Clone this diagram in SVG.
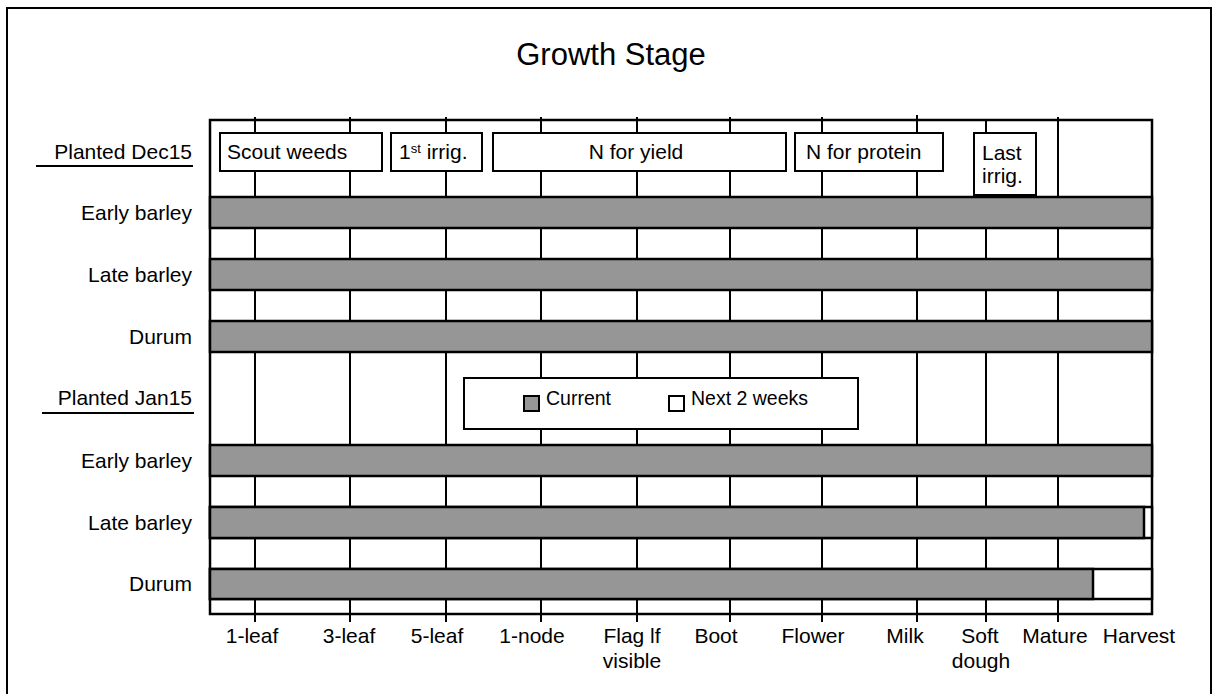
<svg xmlns="http://www.w3.org/2000/svg" width="1213" height="694" viewBox="0 0 1213 694">
<style>
text{font-family:"Liberation Sans",Arial,sans-serif;font-size:21px;fill:#000}
.r{text-anchor:end}
.m{text-anchor:middle}
.grid{stroke:#000;stroke-width:2}
.box{fill:#fff;stroke:#000;stroke-width:2}
.cur{fill:#969696;stroke:#000;stroke-width:2.5}
.nxt{fill:#fff;stroke:#000;stroke-width:2.5}
.ul{stroke:#000;stroke-width:2}
.lg{font-size:19.5px}
</style>
<rect x="0" y="0" width="1213" height="694" fill="#fff"/>
<rect id="border" x="7" y="8" width="1204" height="700" fill="none" stroke="#000" stroke-width="2"/>
<text id="title" x="611" y="65" class="m" style="font-size:31px">Growth Stage</text>

<g id="plot-bg">
<rect x="210" y="120" width="942" height="494" fill="#fff"/>
</g>
<g id="connectors">
<line class="grid" x1="255" y1="117" x2="255" y2="622"/>
<line class="grid" x1="350" y1="117" x2="350" y2="622"/>
<line class="grid" x1="446" y1="117" x2="446" y2="622"/>
<line class="grid" x1="541" y1="117" x2="541" y2="622"/>
<line class="grid" x1="637" y1="117" x2="637" y2="622"/>
<line class="grid" x1="730" y1="117" x2="730" y2="622"/>
<line class="grid" x1="822" y1="117" x2="822" y2="622"/>
<line class="grid" x1="917" y1="115" x2="917" y2="622"/>
<line class="grid" x1="986" y1="120" x2="986" y2="622"/>
<line class="grid" x1="1058" y1="117" x2="1058" y2="622"/>
</g>
<rect id="plot-frame" x="210" y="120" width="942" height="494" fill="none" stroke="#000" stroke-width="2.5"/>

<g id="dec15-header">
<text x="192" y="159" class="r">Planted Dec15</text>
<line class="ul" x1="36" y1="166" x2="193" y2="166"/>
</g>
<g id="scout-weeds">
<rect class="box" x="220" y="133" width="162" height="38"/>
<text x="227" y="159">Scout weeds</text>
</g>
<g id="first-irrig">
<rect class="box" x="391" y="133" width="91" height="38"/>
<text x="399" y="159">1<tspan dy="-6" style="font-size:13px">st</tspan><tspan dy="6"> irrig.</tspan></text>
</g>
<g id="n-yield">
<rect class="box" x="493" y="133" width="293" height="38"/>
<text x="636" y="159" class="m">N for yield</text>
</g>
<g id="n-protein">
<rect class="box" x="795" y="133" width="148" height="38"/>
<text x="806" y="159">N for protein</text>
</g>
<g id="last-irrig">
<rect class="box" x="974" y="133" width="62" height="62"/>
<text x="982" y="160">Last</text>
<text x="982" y="183">irrig.</text>
</g>

<g id="dec-early-barley">
<text x="192" y="220" class="r">Early barley</text>
<rect class="cur" x="210" y="197" width="942" height="31"/>
</g>
<g id="dec-late-barley">
<text x="192" y="282" class="r">Late barley</text>
<rect class="cur" x="210" y="259" width="942" height="31"/>
</g>
<g id="dec-durum">
<text x="192" y="344" class="r">Durum</text>
<rect class="cur" x="210" y="321" width="942" height="31"/>
</g>

<g id="jan15-header">
<text x="192" y="405" class="r">Planted Jan15</text>
<line class="ul" x1="42" y1="413" x2="194" y2="413"/>
</g>
<g id="legend">
<rect class="box" x="464" y="378" width="394" height="51"/>
<rect x="524" y="396" width="15" height="15" fill="#969696" stroke="#000" stroke-width="2"/>
<text x="546" y="405" class="lg">Current</text>
<rect x="669" y="396" width="15" height="15" fill="#fff" stroke="#000" stroke-width="2"/>
<text x="691" y="405" class="lg">Next 2 weeks</text>
</g>

<g id="jan-early-barley">
<text x="192" y="468" class="r">Early barley</text>
<rect class="cur" x="210" y="445" width="942" height="31"/>
</g>
<g id="jan-late-barley">
<text x="192" y="530" class="r">Late barley</text>
<rect class="nxt" x="210" y="507" width="942" height="31"/>
<rect class="cur" x="210" y="507" width="934" height="31"/>
</g>
<g id="jan-durum">
<text x="192" y="591" class="r">Durum</text>
<rect class="nxt" x="210" y="569" width="942" height="30"/>
<rect class="cur" x="210" y="569" width="883" height="30"/>
</g>

<g id="axis-labels">
<text x="252" y="643" class="m">1-leaf</text>
<text x="349" y="643" class="m">3-leaf</text>
<text x="437" y="643" class="m">5-leaf</text>
<text x="532" y="643" class="m">1-node</text>
<text x="632" y="643" class="m">Flag lf</text>
<text x="632" y="668" class="m">visible</text>
<text x="716" y="643" class="m">Boot</text>
<text x="813" y="643" class="m">Flower</text>
<text x="905" y="643" class="m">Milk</text>
<text x="980" y="643" class="m">Soft</text>
<text x="981" y="668" class="m">dough</text>
<text x="1055" y="643" class="m">Mature</text>
<text x="1139" y="643" class="m">Harvest</text>
</g>
</svg>
